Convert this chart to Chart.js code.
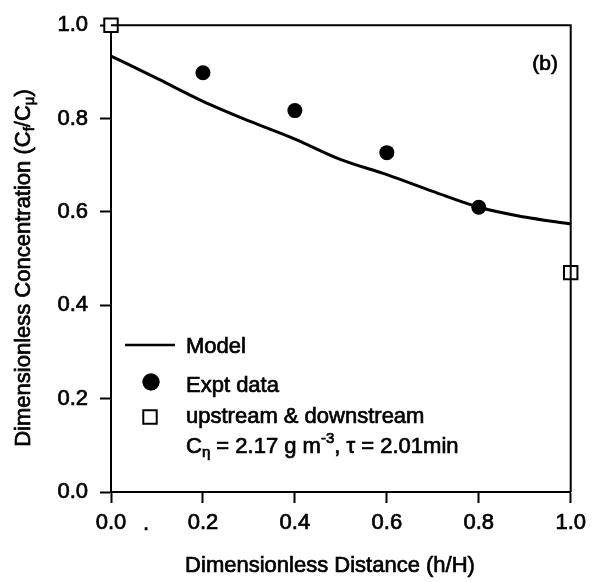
<!DOCTYPE html>
<html>
<head>
<meta charset="utf-8">
<script src="https://cdn.jsdelivr.net/npm/chart.js@4.4.0/dist/chart.umd.min.js"></script>
<style>
    html, body { margin: 0; padding: 0; background: #ffffff; }
    #wrap { width: 593px; height: 582px; }
</style>
</head>
<body>
<div id="wrap"><canvas id="chart" width="593" height="582"></canvas></div>
<script>
// values

var modelX = [0.0, 0.1, 0.2, 0.3, 0.4, 0.5, 0.6, 0.7, 0.8, 0.9, 1.0];
var modelY = [0.934, 0.886, 0.837, 0.795, 0.756, 0.712, 0.680, 0.644, 0.610, 0.589, 0.574];

var exptX = [0.2, 0.4, 0.6, 0.8];
var exptY = [0.898, 0.817, 0.727, 0.610];

// upstream & downstream points
var boundX = [0.0, 1.0];
var boundY = [1.0, 0.47];

var xTicks = [0.0, 0.2, 0.4, 0.6, 0.8, 1.0];
var yTicks = [0.0, 0.2, 0.4, 0.6, 0.8, 1.0];

var FONT = "'Liberation Sans', Arial, Helvetica, sans-serif";
var INK = '#000000';
var HEAVY = 0.7; // thin outline so text looks like the scanned print

function toPoints(xs, ys) {
    var pts = [];
    for (let i = 0; i < xs.length; i++) {
        pts.push({ x: xs[i], y: ys[i] });
    }
    return pts;
}

function heavyText(ctx, t, x, y) {
    ctx.fillText(t, x, y);
    ctx.lineWidth = HEAVY;
    ctx.strokeText(t, x, y);
}

// draws text with sub / superscript parts, starting at x (left), y (middle)
function drawRich(ctx, x, y, parts, size) {
    let cx = x;
    ctx.textBaseline = 'middle';
    ctx.textAlign = 'left';
    parts.forEach(function (p) {
        let s = (p.sub || p.sup) ? Math.round(size * 0.68) : size;
        let dy = p.sub ? size * 0.28 : (p.sup ? -size * 0.38 : 0);
        ctx.font = s + 'px ' + FONT;
        heavyText(ctx, p.t, cx, y + dy);
        cx += ctx.measureText(p.t).width;
    });
    return cx - x;
}

function richWidth(ctx, parts, size) {
    let w = 0;
    parts.forEach(function (p) {
        let s = (p.sub || p.sup) ? Math.round(size * 0.68) : size;
        ctx.font = s + 'px ' + FONT;
        w += ctx.measureText(p.t).width;
    });
    return w;
}

// frame, titles, legend and panel label
var overlayPlugin = {
    id: 'overlay',
    afterDraw: function (chart) {
        let ctx = chart.ctx;
        let area = chart.chartArea;
        ctx.save();
        ctx.strokeStyle = INK;
        ctx.fillStyle = INK;
        ctx.lineWidth = 2;

        // top and right frame
        ctx.beginPath();
        ctx.moveTo(area.left, area.top);
        ctx.lineTo(area.right, area.top);
        ctx.lineTo(area.right, area.bottom);
        ctx.stroke();

        // x title
        ctx.font = '22px ' + FONT;
        ctx.textAlign = 'center';
        ctx.textBaseline = 'middle';
        heavyText(ctx, 'Dimensionless Distance (h/H)', 330, 566);

        // stray dot from the print, left of the 0.2 label
        heavyText(ctx, '.', 146, 524);

        // y title
        let yParts = [
            { t: 'Dimensionless Concentration (C' },
            { t: 'f', sub: true },
            { t: '/C' },
            { t: 'μ', sub: true },
            { t: ')' }
        ];
        ctx.save();
        ctx.translate(24, 268);
        ctx.rotate(-Math.PI / 2);
        let w = richWidth(ctx, yParts, 22);
        drawRich(ctx, -w / 2, 0, yParts, 22);
        ctx.restore();

        // panel label
        ctx.font = '21px ' + FONT;
        ctx.textAlign = 'right';
        ctx.textBaseline = 'middle';
        heavyText(ctx, '(b)', 558, 64);

        // legend
        ctx.beginPath();
        ctx.lineWidth = 2.5;
        ctx.moveTo(125, 345);
        ctx.lineTo(175, 345);
        ctx.stroke();

        Chart.helpers.drawPoint(ctx, { pointStyle: 'circle', radius: 8.5, borderWidth: 0 }, 151, 382);
        ctx.fill();

        ctx.fillStyle = '#ffffff';
        ctx.lineWidth = 2;
        Chart.helpers.drawPoint(ctx, { pointStyle: 'rect', radius: 9.5, borderWidth: 2 }, 150, 417);
        ctx.fillStyle = INK;

        drawRich(ctx, 186, 347, [{ t: 'Model' }], 22);
        drawRich(ctx, 186, 386, [{ t: 'Expt data' }], 22);
        drawRich(ctx, 186, 417, [{ t: 'upstream & downstream' }], 22);
        drawRich(ctx, 186, 447, [
            { t: 'C' },
            { t: 'η', sub: true },
            { t: ' = 2.17 g m' },
            { t: '-3', sup: true },
            { t: ', τ = 2.01min' }
        ], 22);

        ctx.restore();
    }
};

var tickFont = { family: FONT, size: 22 };

var ctx = document.getElementById('chart').getContext('2d');

var chart = new Chart(ctx, {
    type: 'scatter',
    data: {
        datasets: [
            {
                type: 'line',
                label: 'Model',
                data: toPoints(modelX, modelY),
                borderColor: INK,
                borderWidth: 3,
                pointRadius: 0,
                cubicInterpolationMode: 'monotone',
                fill: false
            },
            {
                label: 'Expt data',
                data: toPoints(exptX, exptY),
                pointStyle: 'circle',
                pointRadius: 7.5,
                backgroundColor: INK,
                borderColor: INK,
                borderWidth: 0
            },
            {
                label: 'upstream & downstream',
                data: toPoints(boundX, boundY),
                pointStyle: 'rect',
                pointRadius: 9.5,
                backgroundColor: '#ffffff',
                borderColor: INK,
                borderWidth: 2,
                clip: false
            }
        ]
    },
    options: {
        responsive: false,
        animation: false,
        devicePixelRatio: 1,
        layout: {
            padding: { top: 21, right: 19, left: 0, bottom: 0 }
        },
        scales: {
            x: {
                type: 'linear',
                min: 0,
                max: 1,
                afterBuildTicks: function (scale) {
                    scale.ticks = xTicks.map(function (v) { return { value: v }; });
                },
                afterFit: function (scale) { scale.height = 90; },
                ticks: {
                    color: INK,
                    font: tickFont,
                    padding: 7,
                    maxRotation: 0,
                    textStrokeColor: INK,
                    textStrokeWidth: HEAVY,
                    callback: function (v) { return v.toFixed(1); }
                },
                grid: {
                    drawOnChartArea: false,
                    drawTicks: true,
                    tickLength: 11,
                    tickColor: INK,
                    tickWidth: 2
                },
                border: { display: true, color: INK, width: 2 }
            },
            y: {
                type: 'linear',
                min: 0,
                max: 1,
                afterBuildTicks: function (scale) {
                    scale.ticks = yTicks.map(function (v) { return { value: v }; });
                },
                afterFit: function (scale) { scale.width = 111; },
                ticks: {
                    color: INK,
                    font: tickFont,
                    padding: 12,
                    textStrokeColor: INK,
                    textStrokeWidth: HEAVY,
                    callback: function (v) { return v.toFixed(1); }
                },
                grid: {
                    drawOnChartArea: false,
                    drawTicks: true,
                    tickLength: 11,
                    tickColor: INK,
                    tickWidth: 2
                },
                border: { display: true, color: INK, width: 2 }
            }
        },
        plugins: {
            legend: { display: false },
            tooltip: { enabled: false }
        }
    },
    plugins: [overlayPlugin]
});
</script>
</body>
</html>
